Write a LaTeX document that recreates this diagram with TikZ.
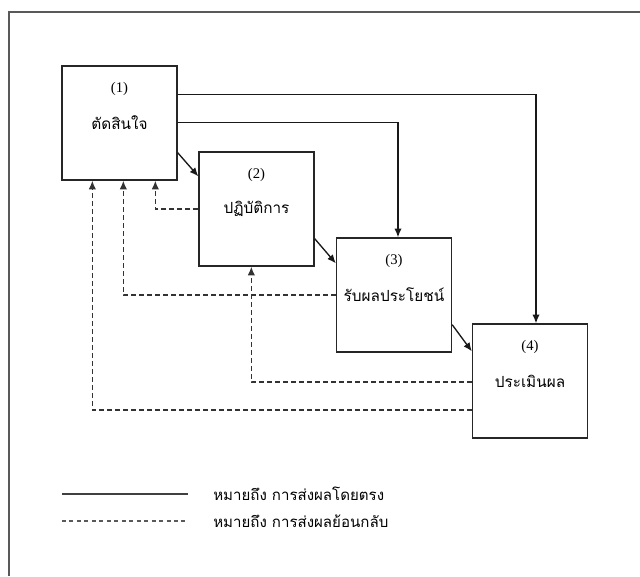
\documentclass[tikz,border=0pt]{standalone}
\usepackage{fontspec}
\usepackage{tikz}
\usepackage{xcolor}
\usetikzlibrary{arrows.meta,calc}
\setmainfont{Liberation Serif}
\newfontfamily\thaifont[Script=Thai]{Loma}

\begin{document}
\begin{tikzpicture}[x=0.75pt,y=-0.75pt]
\tikzstyle{every node}+=[inner sep=0pt]
\tikzstyle{stage}=[draw=black!85, line width=1pt, fill=white, minimum width=86.25pt, minimum height=85.5pt, font=\thaifont\fontsize{11.5}{13}\selectfont]
\tikzstyle{tag}=[anchor=center, yshift=-18pt, font=\fontsize{11}{13}\selectfont]
\tikzstyle{direct}=[black!90, line width=1pt, -{Latex[length=6.5pt,width=5.5pt]}]
\tikzstyle{back}=[black!80, line width=1pt, dash pattern=on 3.75pt off 2.25pt, -{Latex[length=6.5pt,width=5.5pt]}]
\tikzstyle{keytext}=[anchor=west, font=\thaifont\fontsize{11.3}{13}\selectfont]
\useasboundingbox (0,0) rectangle (640,576);
\draw [black!65, line width=1pt] (640,12) -- (9,12) -- (9,576);
\node [stage, label={[tag]north:(1)}] (s1) at (119.5,123) {ตัดสินใจ};
\node [stage, label={[tag]north:(2)}] (s2) at (256.5,209) {ปฏิบัติการ};
\node [stage, label={[tag]north:(3)}] (s3) at (394,295) {รับผลประโยชน์};
\node [stage, label={[tag]north:(4)}] (s4) at (530,381) {ประเมินผล};
\draw [direct] ($(s1.north east)+(0,29)$) -| ($(s4.north)+(6,0)$);
\draw [direct] ($(s1.north east)+(0,57)$) -| ($(s3.north)+(4,0)$);
\draw [direct] ($(s1.south east)+(0,-28)$) -- ($(s2.north west)+(0,25)$);
\draw [direct] ($(s2.south east)+(0,-28)$) -- ($(s3.north west)+(0,26)$);
\draw [direct] ($(s3.south east)+(0,-28)$) -- ($(s4.north west)+(0,28)$);
\draw [back] (s2.west) -| ($(s1.south west)+(94,0)$);
\draw [back] (s3.west) -| ($(s1.south west)+(62,0)$);
\draw [back] ($(s4.west)+(0,1)$) -| ($(s2.south west)+(53,0)$);
\draw [back] ($(s4.west)+(0,29)$) -| ($(s1.south west)+(31,0)$);
\coordinate (k1a) at (62,494);
\coordinate (k1b) at (188,494);
\coordinate (k2a) at (62,521);
\coordinate (k2b) at (188,521);
\draw [black!75, line width=1pt] (k1a) -- (k1b);
\draw [black!65, line width=1pt, dash pattern=on 3pt off 2.6pt] (k2a) -- (k2b);
\node [keytext] (key1) at (213,494) {หมายถึง การส่งผลโดยตรง};
\node [keytext] (key2) at (213,521) {หมายถึง การส่งผลย้อนกลับ};
\end{tikzpicture}
\end{document}
